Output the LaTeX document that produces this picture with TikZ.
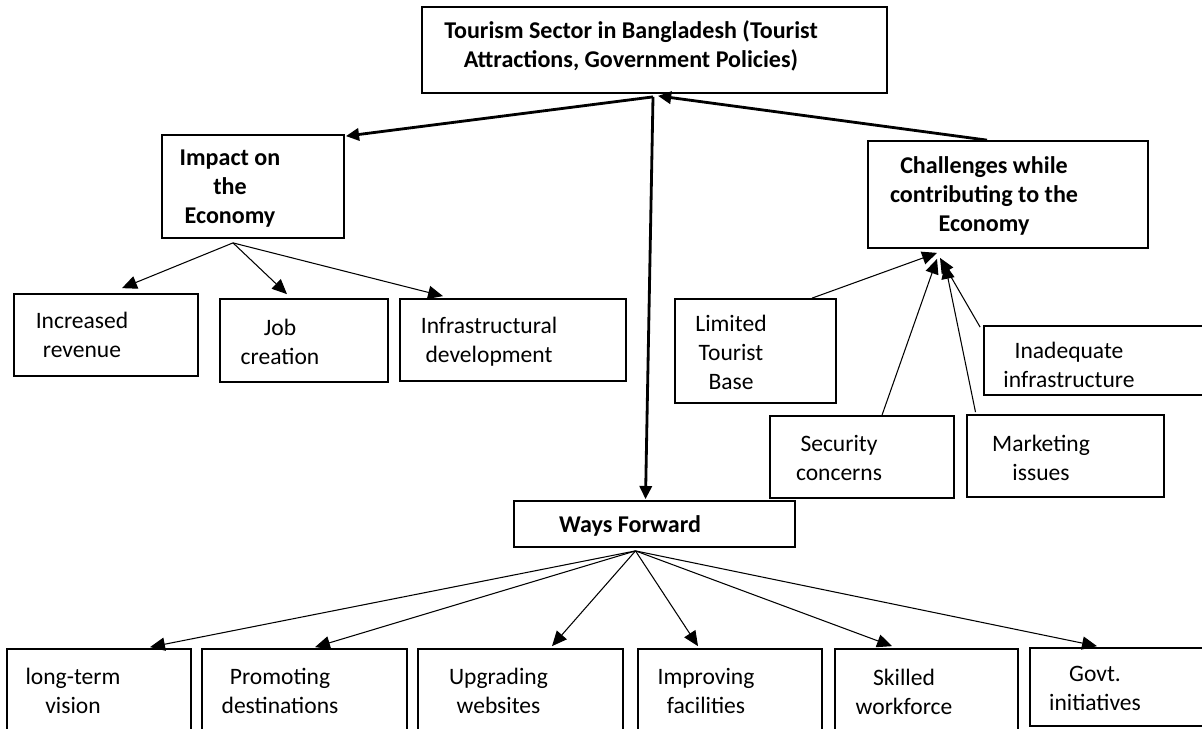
\documentclass[tikz,border=0pt]{standalone}
\usepackage{fontspec}
\setmainfont{Carlito}
\usetikzlibrary{arrows.meta,calc,fit}
\begin{document}
\begin{tikzpicture}[x=0.02cm,y=-0.02cm,
  box/.style={draw, line width=1pt, inner sep=0pt, fit={#1}},
  txt/.style={align=center, inner sep=0pt, font=\fontsize{13.4pt}{16.5pt}\selectfont},
  btxt/.style={align=center, inner sep=0pt, font=\fontsize{13.7pt}{16.5pt}\selectfont\bfseries},
  thinarrow/.style={line width=0.6pt, -{Triangle[length=8.5pt,width=7.5pt]}},
  thickarrow/.style={line width=1.6pt, -{Triangle[length=7.5pt,width=7pt]}}]
\fill[white] (0,0) rectangle (1202,728);
\useasboundingbox (0,0) rectangle (1202,728);
% boxes
\node[box={(422,7)(887,93)}] (top) {};
\node[box={(162,135)(344,238)}] (imp) {};
\node[box={(868,141)(1148,248)}] (ch) {};
\node[box={(14,294)(198,376)}] (inc) {};
\node[box={(220,299)(388,382)}] (job) {};
\node[box={(400,299)(626,381)}] (infra) {};
\node[box={(675,299)(836,403)}] (lim) {};
\node[box={(984,326)(1204,395)}] (inad) {};
\node[box={(770,416)(954,498)}] (sec) {};
\node[box={(967,415)(1164,497)}] (mkt) {};
\node[box={(514,501)(795,547)}] (ways) {};
\node[box={(7,649)(191,745)}] (lt) {};
\node[box={(202,649)(407,745)}] (pro) {};
\node[box={(418,649)(623,745)}] (upg) {};
\node[box={(638,649)(822,745)}] (imf) {};
\node[box={(835,649)(1018,745)}] (skl) {};
\node[box={(1030,648)(1204,726)}] (gov) {};
% texts
\node[btxt] (ttop) at (631,46) {Tourism Sector in Bangladesh (Tourist\\Attractions, Government Policies)};
\node[btxt] (timp) at (230,189) {Impact on\\the\\Economy};
\node[btxt] (tch) at (984,196) {Challenges while\\contributing to the\\Economy};
\node[txt] (tinc) at (82,335) {Increased\\revenue};
\node[txt] (tjob) at (280,341.5) {Job\\creation};
\node[txt] (tinfra) at (489,342) {Infrastructural\\development};
\node[txt] (tlim) at (731,352.5) {Limited\\Tourist\\Base};
\node[txt] (tinad) at (1069,365) {Inadequate\\infrastructure};
\node[txt] (tsec) at (839,458) {Security\\concerns};
\node[txt] (tmkt) at (1041,457.5) {Marketing\\issues};
\node[btxt] (tways) at (630,526) {Ways Forward};
\node[txt] (tlt) at (73,691) {long-term\\vision};
\node[txt] (tpro) at (280,691) {Promoting\\destinations};
\node[txt] (tupg) at (498.5,690.5) {Upgrading\\websites};
\node[txt] (timf) at (706,691) {Improving\\facilities};
\node[txt] (tskl) at (904,691.5) {Skilled\\workforce};
\node[txt] (tgov) at (1095,688) {Govt.\\initiatives};
% main connectors
\draw[thickarrow] ($(top.south)+(-1.5,3)$) -- ($(imp.north east)+(1,2)$);
\draw[thickarrow] ($(top.south)+(-1.5,3)$) -- ($(ways.north)+(-9,-1)$);
\draw[thickarrow] ($(ch.north)+(-21,0)$) -- ($(top.south)+(3.5,2)$);
% impact fan
\coordinate (impf) at ($(imp.south)+(-20,4)$);
\draw[thinarrow] (impf) -- ($(inc.north)+(16,-5)$);
\draw[thinarrow] (impf) -- ($(job.north)+(-17,-4)$);
\draw[thinarrow] (impf) -- ($(infra.north)+(-70,-2)$);
% challenges
\draw[thinarrow] ($(lim.north)+(56.5,0)$) -- ($(ch.south)+(-71,4)$);
\draw[thinarrow] ($(sec.north)+(20,0)$) -- ($(ch.south)+(-71,10)$);
\draw[thinarrow] ($(mkt.north)+(-90,-2)$) -- ($(ch.south)+(-63,15)$);
\draw[thinarrow] ($(inad.north west)+(-3,2)$) -- ($(ch.south)+(-68,9)$);
% ways fan
\coordinate (wf) at ($(ways.south)+(-19,3)$);
\draw[thinarrow] (wf) -- ($(lt.north)+(51,-1)$);
\draw[thinarrow] (wf) -- ($(pro.north)+(10.5,-1)$);
\draw[thinarrow] (wf) -- ($(upg.north)+(31.5,-2)$);
\draw[thinarrow] (wf) -- ($(imf.north)+(-32,-2)$);
\draw[thinarrow] (wf) -- ($(skl.north)+(-34.5,-2)$);
\draw[thinarrow] (wf) -- ($(gov.north)+(-20,-1)$);
\end{tikzpicture}
\end{document}
